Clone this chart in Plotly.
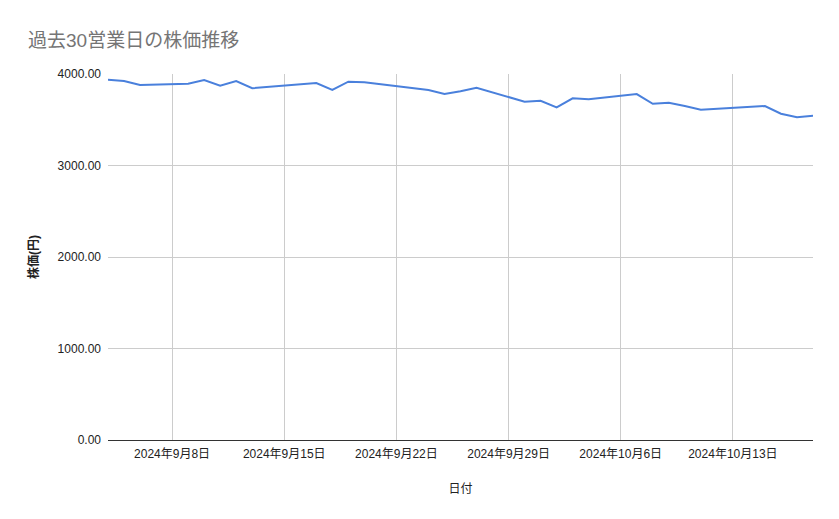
import plotly.graph_objects as go

# 過去30営業日の終値(目測)
dates = [
    "2024-09-04", "2024-09-05", "2024-09-06", "2024-09-09", "2024-09-10",
    "2024-09-11", "2024-09-12", "2024-09-13", "2024-09-17", "2024-09-18",
    "2024-09-19", "2024-09-20", "2024-09-24", "2024-09-25", "2024-09-26",
    "2024-09-27", "2024-09-30", "2024-10-01", "2024-10-02", "2024-10-03",
    "2024-10-04", "2024-10-07", "2024-10-08", "2024-10-09", "2024-10-10",
    "2024-10-11", "2024-10-15", "2024-10-16", "2024-10-17", "2024-10-18",
]
prices = [
    3938, 3923, 3880, 3894, 3934,
    3872, 3923, 3844, 3902, 3825,
    3916, 3909, 3825, 3781, 3811,
    3850, 3697, 3708, 3636, 3734,
    3723, 3781, 3675, 3686, 3650,
    3610, 3650, 3566, 3527, 3544,
]

tick_dates = ["2024-09-08", "2024-09-15", "2024-09-22", "2024-09-29", "2024-10-06", "2024-10-13"]
tick_labels = ["2024年9月8日", "2024年9月15日", "2024年9月22日", "2024年9月29日", "2024年10月6日", "2024年10月13日"]
y_ticks = [0, 1000, 2000, 3000, 4000]

font = "Liberation Sans, Arial, Noto Sans CJK JP, sans-serif"

# page body has an 8px margin, so the figure is shifted by 8px
fig = go.Figure()
fig.add_trace(go.Scatter(
    x=dates, y=prices, mode="lines",
    line=dict(color="#4a80dc", width=2),
    showlegend=False,
))

fig.update_layout(
    width=839,
    height=519,
    margin=dict(l=100, r=34, t=66, b=87),
    paper_bgcolor="white",
    plot_bgcolor="white",
    font=dict(family=font, size=12, color="#222222"),
    title=dict(
        text="過去30営業日の株価推移",
        x=20 / 839, xanchor="left", xref="container",
        y=1 - 32 / 519, yanchor="middle", yref="container",
        font=dict(size=19, color="#757575"),
    ),
    xaxis=dict(
        type="date",
        range=["2024-09-04", "2024-10-18"],
        tickvals=tick_dates,
        ticktext=tick_labels,
        showgrid=True,
        gridcolor="#cccccc",
        ticks="",
        showline=False,
        zeroline=False,
        ticklabelstandoff=5,
        title=dict(text="日付", standoff=24, font=dict(size=12)),
    ),
    yaxis=dict(
        range=[0, 4000],
        tickvals=y_ticks,
        tickformat=".2f",
        showgrid=True,
        gridcolor="#cccccc",
        zeroline=True,
        zerolinecolor="#333333",
        zerolinewidth=1,
        ticks="",
        ticklabelstandoff=6,
        title=dict(text="<b>株価(円)</b>", standoff=16, font=dict(size=12)),
    ),
)

fig.write_html("out.html")
